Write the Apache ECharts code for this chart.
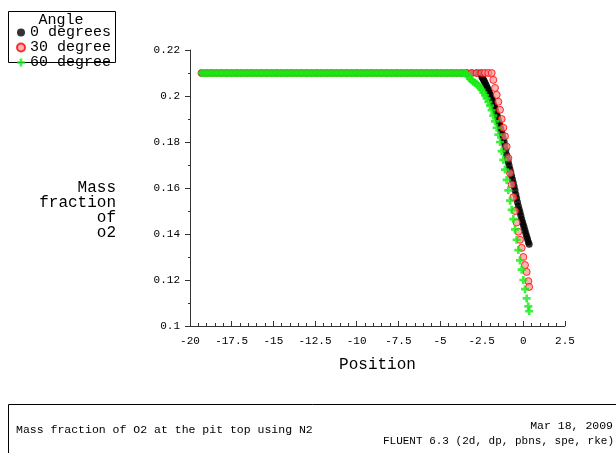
<!DOCTYPE html>
<html>
<head>
<meta charset="utf-8">
<script src="https://cdn.jsdelivr.net/npm/echarts@6/dist/echarts.min.js"></script>
<style>html,body{margin:0;padding:0;background:#fff}#c{width:616px;height:453px}</style>
</head>
<body>
<div id="c"></div>
<script>
// ---- data ----
var xTicks = ['-20','-17.5','-15','-12.5','-10','-7.5','-5','-2.5','0','2.5'];
var yTicks = ['0.1','0.12','0.14','0.16','0.18','0.2','0.22'];
var seriesNames = ['0 degrees','30 degrees','60 degrees'];

var deg0X = [-19.3,-19.0,-18.7,-18.4,-18.1,-17.8,-17.5,-17.2,-16.9,-16.6,-16.3,-16.0,-15.7,-15.4,-15.1,-14.8,-14.5,-14.2,-13.9,-13.6,-13.3,-13.0,-12.7,-12.4,-12.1,-11.8,-11.5,-11.2,-10.9,-10.6,-10.3,-10.0,-9.7,-9.4,-9.1,-8.8,-8.5,-8.2,-7.9,-7.6,-7.3,-7.0,-6.7,-6.4,-6.1,-5.8,-5.5,-5.2,-4.9,-4.6,-4.3,-4.0,-3.7,-3.4,-3.1,-2.8,-2.6,
  -2.5,-2.45,-2.4,-2.35,-2.3,-2.25,-2.2,-2.15,-2.1,-2.05,-2.0,-1.95,-1.9,-1.85,-1.8,-1.75,-1.7,-1.65,-1.6,-1.55,-1.5,-1.45,-1.4,-1.35,-1.3,-1.25,-1.2,-1.15,-1.1,-1.05,-1.0,-0.95,-0.9,-0.85,-0.8,-0.75,-0.7,-0.65,-0.6,-0.55,-0.5,-0.45,-0.4,-0.35,-0.3,-0.25,-0.2,-0.15,-0.1,-0.05,0.0,0.05,0.1,0.15,0.2,0.25,0.3,0.35];
var deg0Y = [0.21,0.21,0.21,0.21,0.21,0.21,0.21,0.21,0.21,0.21,0.21,0.21,0.21,0.21,0.21,0.21,0.21,0.21,0.21,0.21,0.21,0.21,0.21,0.21,0.21,0.21,0.21,0.21,0.21,0.21,0.21,0.21,0.21,0.21,0.21,0.21,0.21,0.21,0.21,0.21,0.21,0.21,0.21,0.21,0.21,0.21,0.21,0.21,0.21,0.21,0.21,0.21,0.21,0.21,0.21,0.21,0.21,
  0.2085,0.2079,0.2072,0.2065,0.2058,0.2050,0.2041,0.2034,0.2026,0.2017,0.2008,0.1999,0.1990,0.1980,0.1970,0.1959,0.1947,0.1935,0.1923,0.1911,0.1898,0.1885,0.1872,0.1858,0.1844,0.1830,0.1815,0.1800,0.1785,0.1765,0.1743,0.1727,0.1712,0.1697,0.1682,0.1667,0.1652,0.1637,0.1622,0.1606,0.1590,0.1572,0.1555,0.1538,0.1522,0.1508,0.1495,0.1480,0.1465,0.1452,0.1440,0.1428,0.1415,0.1402,0.1390,0.1378,0.1365,0.1355];

var deg30X = [-19.3,-19.0,-18.7,-18.4,-18.1,-17.8,-17.5,-17.2,-16.9,-16.6,-16.3,-16.0,-15.7,-15.4,-15.1,-14.8,-14.5,-14.2,-13.9,-13.6,-13.3,-13.0,-12.7,-12.4,-12.1,-11.8,-11.5,-11.2,-10.9,-10.6,-10.3,-10.0,-9.7,-9.4,-9.1,-8.8,-8.5,-8.2,-7.9,-7.6,-7.3,-7.0,-6.7,-6.4,-6.1,-5.8,-5.5,-5.2,-4.9,-4.6,-4.3,-4.0,-3.7,-3.4,-3.1,-2.8,-2.5,-2.3,-2.1,-1.9,
  -1.8,-1.7,-1.6,-1.5,-1.4,-1.3,-1.2,-1.1,-1.0,-0.9,-0.8,-0.7,-0.6,-0.5,-0.4,-0.3,-0.2,-0.1,0.0,0.1,0.2,0.3,0.35];
var deg30Y = [0.21,0.21,0.21,0.21,0.21,0.21,0.21,0.21,0.21,0.21,0.21,0.21,0.21,0.21,0.21,0.21,0.21,0.21,0.21,0.21,0.21,0.21,0.21,0.21,0.21,0.21,0.21,0.21,0.21,0.21,0.21,0.21,0.21,0.21,0.21,0.21,0.21,0.21,0.21,0.21,0.21,0.21,0.21,0.21,0.21,0.21,0.21,0.21,0.21,0.21,0.21,0.21,0.21,0.21,0.21,0.21,0.21,0.21,0.21,0.21,
  0.2070,0.2035,0.2005,0.1975,0.1940,0.1900,0.1862,0.1825,0.1780,0.1730,0.1665,0.1615,0.1560,0.1500,0.1450,0.1410,0.1375,0.1340,0.1300,0.1265,0.1235,0.1195,0.1170];

var deg60X = [-19.3,-19.15,-19.0,-18.85,-18.7,-18.55,-18.4,-18.25,-18.1,-17.95,-17.8,-17.65,-17.5,-17.35,-17.2,-17.05,-16.9,-16.75,-16.6,-16.45,-16.3,-16.15,-16.0,-15.85,-15.7,-15.55,-15.4,-15.25,-15.1,-14.95,-14.8,-14.65,-14.5,-14.35,-14.2,-14.05,-13.9,-13.75,-13.6,-13.45,-13.3,-13.15,-13.0,-12.85,-12.7,-12.55,-12.4,-12.25,-12.1,-11.95,-11.8,-11.65,-11.5,-11.35,-11.2,-11.05,-10.9,-10.75,-10.6,-10.45,-10.3,-10.15,-10.0,-9.85,-9.7,-9.55,-9.4,-9.25,-9.1,-8.95,-8.8,-8.65,-8.5,-8.35,-8.2,-8.05,-7.9,-7.75,-7.6,-7.45,-7.3,-7.15,-7.0,-6.85,-6.7,-6.55,-6.4,-6.25,-6.1,-5.95,-5.8,-5.65,-5.5,-5.35,-5.2,-5.05,-4.9,-4.75,-4.6,-4.45,-4.3,-4.15,-4.0,-3.85,-3.7,-3.6,-3.5,
  -3.4,-3.3,-3.2,-3.1,-3.0,-2.9,-2.8,-2.7,-2.6,-2.5,-2.4,-2.3,-2.2,-2.1,-2.0,-1.9,-1.8,-1.7,-1.6,-1.5,-1.4,-1.3,-1.2,-1.1,-1.0,-0.9,-0.8,-0.7,-0.6,-0.5,-0.4,-0.3,-0.2,-0.1,0.0,0.1,0.2,0.3,0.35];
var deg60Y = [0.21,0.21,0.21,0.21,0.21,0.21,0.21,0.21,0.21,0.21,0.21,0.21,0.21,0.21,0.21,0.21,0.21,0.21,0.21,0.21,0.21,0.21,0.21,0.21,0.21,0.21,0.21,0.21,0.21,0.21,0.21,0.21,0.21,0.21,0.21,0.21,0.21,0.21,0.21,0.21,0.21,0.21,0.21,0.21,0.21,0.21,0.21,0.21,0.21,0.21,0.21,0.21,0.21,0.21,0.21,0.21,0.21,0.21,0.21,0.21,0.21,0.21,0.21,0.21,0.21,0.21,0.21,0.21,0.21,0.21,0.21,0.21,0.21,0.21,0.21,0.21,0.21,0.21,0.21,0.21,0.21,0.21,0.21,0.21,0.21,0.21,0.21,0.21,0.21,0.21,0.21,0.21,0.21,0.21,0.21,0.21,0.21,0.21,0.21,0.21,0.21,0.21,0.21,0.21,0.21,0.21,0.21,
  0.2095,0.2085,0.2075,0.2068,0.2062,0.2058,0.2053,0.2045,0.2037,0.2027,0.2015,0.2003,0.1990,0.1975,0.1958,0.1938,0.1915,0.1890,0.1862,0.1832,0.1800,0.1760,0.1722,0.1680,0.1635,0.1590,0.1545,0.1505,0.1465,0.1420,0.1375,0.1330,0.1285,0.1245,0.1200,0.1160,0.1120,0.1085,0.1065];

function zip(xs, ys){ var out=[]; for (var i=0;i<xs.length;i++) out.push([xs[i], ys[i]]); return out; }

var FONT = "'Liberation Mono', 'DejaVu Sans Mono', monospace";
var plusPath = 'path://M2,0L4,0L4,2L6,2L6,4L4,4L4,6L2,6L2,4L0,4L0,2L2,2Z';

var chart = echarts.init(document.getElementById('c'), null, {renderer:'canvas'});
chart.setOption({
  animation: false,
  backgroundColor: '#ffffff',
  textStyle: { fontFamily: FONT },
  grid: { left: 190, right: 51, top: 50, bottom: 127, containLabel: false },
  legend: {
    orient: 'vertical', left: 16, top: 25, padding: 0,
    itemGap: 0, itemWidth: 8, itemHeight: 8, itemTextGap: 10,
    data: seriesNames,
    textStyle: { fontFamily: FONT, fontSize: 15, lineHeight: 12, color: '#000',
      width: 88, overflow: 'truncate', ellipsis: '' }
  },
  xAxis: {
    type: 'value', min: -20, max: 2.5, interval: 2.5,
    name: 'Position', nameLocation: 'middle', nameGap: 31,
    nameTextStyle: { fontFamily: FONT, fontSize: 16, color: '#000' },
    axisLine: { onZero: false, lineStyle: { color: '#333', width: 1 } },
    axisTick: { show: true, inside: true, length: 5, lineStyle: { color: '#333' } },
    minorTick: { show: true, splitNumber: 5, length: 3, lineStyle: { color: '#333' } },
    splitLine: { show: false },
    axisLabel: { fontFamily: FONT, fontSize: 11, color: '#000', margin: 10,
      formatter: function(v){ var s = String(+v.toFixed(1)); return xTicks.indexOf(s) >= 0 ? s : ''; } }
  },
  yAxis: {
    type: 'value', min: 0.1, max: 0.22, interval: 0.02,
    axisLine: { show: true, onZero: false, lineStyle: { color: '#333', width: 1 } },
    axisTick: { show: true, inside: false, length: 5, lineStyle: { color: '#333' } },
    minorTick: { show: true, splitNumber: 2, length: 2, lineStyle: { color: '#333' } },
    splitLine: { show: false },
    axisLabel: { fontFamily: FONT, fontSize: 11, color: '#000', margin: 10,
      formatter: function(v){ var s = String(+v.toFixed(2)); return yTicks.indexOf(s) >= 0 ? s : ''; } }
  },
  series: [
    { name: seriesNames[0], type: 'scatter', data: zip(deg0X, deg0Y),
      symbol: 'circle', symbolSize: 7, itemStyle: { color: '#000' } },
    { name: seriesNames[1], type: 'scatter', data: zip(deg30X, deg30Y),
      symbol: 'circle', symbolSize: 7,
      itemStyle: { color: 'rgba(255,140,140,0.85)', borderColor: '#ff0000', borderWidth: 1 } },
    { name: seriesNames[2], type: 'scatter', data: zip(deg60X, deg60Y),
      symbol: plusPath, symbolSize: 8, itemStyle: { color: '#11ee11' } }
  ],
  graphic: [
    { type: 'rect', shape: { x: 8.5, y: 11.5, width: 107, height: 51 },
      style: { fill: 'none', stroke: '#000', lineWidth: 1 }, silent: true },
    { type: 'text', x: 61, y: 20, style: { text: 'Angle', font: '15px ' + FONT, fill: '#000',
      textAlign: 'center', textVerticalAlign: 'middle' } },
    { type: 'text', x: 116, y: 180, style: { text: 'Mass\nfraction\nof\no2', font: '16px ' + FONT,
      fill: '#000', textAlign: 'right', textVerticalAlign: 'top', lineHeight: 15 } },
    { type: 'rect', shape: { x: 8.5, y: 404.5, width: 620, height: 60 },
      style: { fill: 'none', stroke: '#000', lineWidth: 1 }, silent: true },
    { type: 'text', x: 16, y: 430, style: { text: 'Mass fraction of O2 at the pit top using N2',
      font: '11.5px ' + FONT, fill: '#000', textAlign: 'left', textVerticalAlign: 'middle' } },
    { type: 'text', x: 613, y: 426, style: { text: 'Mar 18, 2009',
      font: '11.5px ' + FONT, fill: '#000', textAlign: 'right', textVerticalAlign: 'middle' } },
    { type: 'text', x: 614, y: 441, style: { text: 'FLUENT 6.3 (2d, dp, pbns, spe, rke)',
      font: '11px ' + FONT, fill: '#000', textAlign: 'right', textVerticalAlign: 'middle' } }
  ]
});
</script>
</body>
</html>
